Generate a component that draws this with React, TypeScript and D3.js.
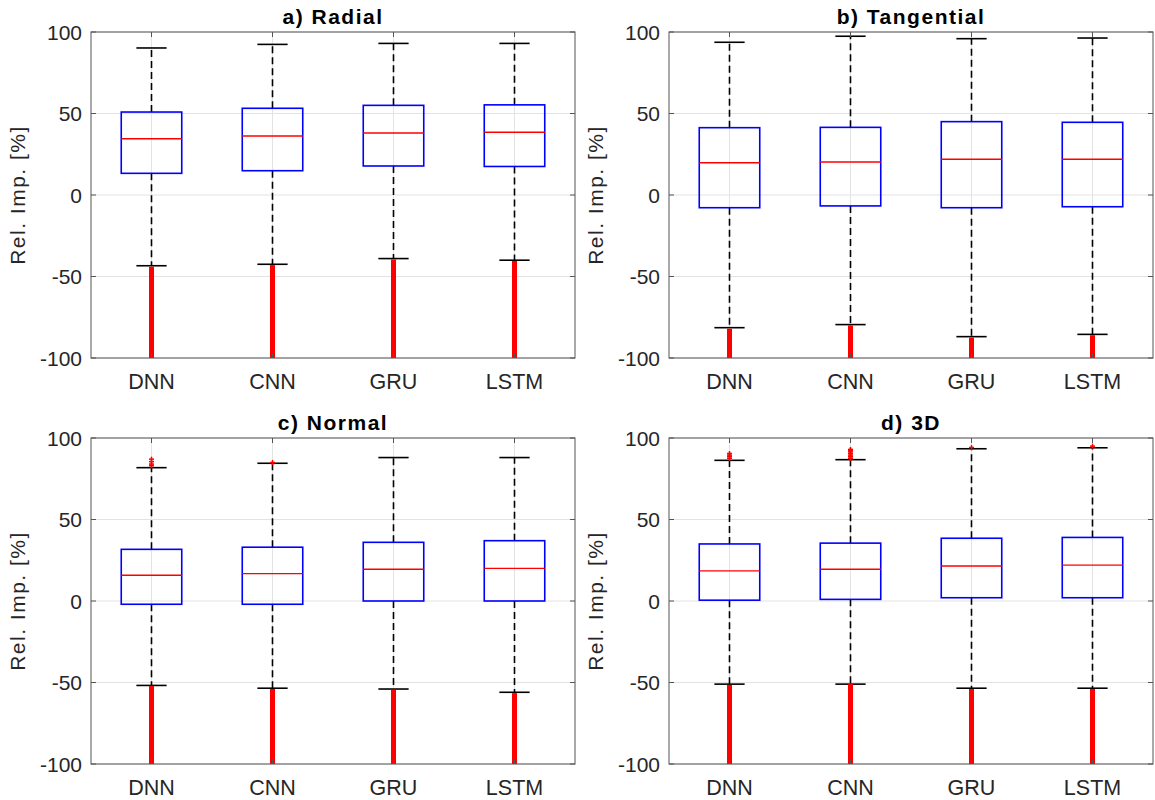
import * as d3 from 'd3';

// categories and box statistics
const models = ['DNN', 'CNN', 'GRU', 'LSTM'];
const yTicks = [-100, -50, 0, 50, 100];

const titles = ['a) Radial', 'b) Tangential', 'c) Normal', 'd) 3D'];

// per panel, per model: [lowerWhisker, q1, median, q3, upperWhisker]
const radialStats = [
  [-43.4, 13.3, 34.5, 50.9, 90.2],
  [-42.5, 14.9, 36.2, 53.2, 92.4],
  [-39.0, 17.8, 38.0, 55.0, 93.0],
  [-40.0, 17.5, 38.5, 55.3, 93.0],
];
const tangentialStats = [
  [-81.4, -7.8, 19.8, 41.3, 93.7],
  [-79.5, -6.7, 20.2, 41.5, 97.4],
  [-86.9, -7.8, 21.9, 45.0, 95.9],
  [-85.5, -7.2, 21.9, 44.6, 96.3],
];
const normalStats = [
  [-51.8, -2.0, 15.8, 31.7, 81.8],
  [-53.5, -2.0, 16.8, 33.0, 84.5],
  [-54.0, 0.0, 19.5, 36.0, 88.0],
  [-56.0, 0.0, 20.0, 37.0, 88.0],
];
const threeDStats = [
  [-51.0, 0.5, 18.5, 35.0, 86.3],
  [-51.0, 1.0, 19.5, 35.5, 86.7],
  [-53.5, 2.0, 21.5, 38.5, 93.4],
  [-53.5, 2.0, 22.0, 39.0, 94.0],
];

// dense lower outliers: [from, to] ranges
const radialLowOut = [[-44, -100], [-43, -100], [-39.5, -100], [-40.5, -100]];
const tangentialLowOut = [[-82, -100], [-80, -100], [-87.5, -100], [-86, -100]];
const normalLowOut = [[-52, -100], [-54, -100], [-54.5, -100], [-56.5, -100]];
const threeDLowOut = [[-51.5, -100], [-51, -100], [-54, -100], [-54, -100]];

// upper outliers: individual points
const radialHighOut = [[], [], [], []];
const tangentialHighOut = [[], [], [], []];
const normalHighOut = [[83, 84, 85.5, 87], [85], [], []];
const threeDHighOut = [[87.5, 88.5, 89.5, 90.5], [87.5, 88.5, 89.5, 90.5, 91.5, 92.5, 93], [94.2], [95]];

const panelStats = [radialStats, tangentialStats, normalStats, threeDStats];
const panelLowOut = [radialLowOut, tangentialLowOut, normalLowOut, threeDLowOut];
const panelHighOut = [radialHighOut, tangentialHighOut, normalHighOut, threeDHighOut];

const font = '"Liberation Sans", Arial, Helvetica, sans-serif';

function Panel({ idx, left, top, w, h }) {
  const stats = panelStats[idx];
  const lowOut = panelLowOut[idx];
  const highOut = panelHighOut[idx];

  const x = d3.scalePoint().domain(models).range([0, w]).padding(0.5);
  const step = x.step();
  const y = d3.scaleLinear().domain([-100, 100]).range([h, 0]);

  const boxHalf = step * 0.25;
  const capHalf = step * 0.125;
  const axisColor = '#555';
  const tickLen = 5;

  return (
    <g transform={`translate(${left},${top})`}>
      {/* grid */}
      {yTicks.map(t => (
        <line key={'gy' + t} x1={0} x2={w} y1={y(t)} y2={y(t)} stroke="#e3e3e3" strokeWidth={1} />
      ))}
      {models.map(m => (
        <line key={'gx' + m} x1={x(m)} x2={x(m)} y1={0} y2={h} stroke="#e3e3e3" strokeWidth={1} />
      ))}

      {/* boxes */}
      {models.map((m, i) => {
        const [lo, q1, med, q3, hi] = stats[i];
        const cx = x(m);
        return (
          <g key={'b' + m}>
            <line x1={cx} x2={cx} y1={y(q3)} y2={y(hi)} stroke="#000" strokeWidth={1.6} strokeDasharray="7,4" />
            <line x1={cx} x2={cx} y1={y(q1)} y2={y(lo)} stroke="#000" strokeWidth={1.6} strokeDasharray="7,4" />
            <line x1={cx - capHalf} x2={cx + capHalf} y1={y(hi)} y2={y(hi)} stroke="#000" strokeWidth={1.6} />
            <line x1={cx - capHalf} x2={cx + capHalf} y1={y(lo)} y2={y(lo)} stroke="#000" strokeWidth={1.6} />
            <line x1={cx} x2={cx} y1={y(lowOut[i][0])} y2={y(lowOut[i][1])} stroke="#ff0000" strokeWidth={5} />
            {highOut[i].map((v, k) => (
              <g key={'h' + k} stroke="#ff0000" strokeWidth={1.5}>
                <line x1={cx - 2.5} x2={cx + 2.5} y1={y(v)} y2={y(v)} />
                <line x1={cx} x2={cx} y1={y(v) - 2.5} y2={y(v) + 2.5} />
              </g>
            ))}
            <rect x={cx - boxHalf} y={y(q3)} width={boxHalf * 2} height={y(q1) - y(q3)} fill="none" stroke="#0000ff" strokeWidth={1.6} />
            <line x1={cx - boxHalf} x2={cx + boxHalf} y1={y(med)} y2={y(med)} stroke="#ff0000" strokeWidth={1.4} />
          </g>
        );
      })}

      {/* axes box */}
      <rect x={0} y={0} width={w} height={h} fill="none" stroke={axisColor} strokeWidth={1} />
      {yTicks.map(t => (
        <g key={'ty' + t}>
          <line x1={0} x2={tickLen} y1={y(t)} y2={y(t)} stroke={axisColor} />
          <line x1={w - tickLen} x2={w} y1={y(t)} y2={y(t)} stroke={axisColor} />
          <text x={-9} y={y(t)} dy="0.36em" textAnchor="end" fontSize={21} fill="#262626" fontFamily={font}>{t}</text>
        </g>
      ))}
      {models.map(m => (
        <g key={'tx' + m}>
          <line x1={x(m)} x2={x(m)} y1={h} y2={h - tickLen} stroke={axisColor} />
          <line x1={x(m)} x2={x(m)} y1={0} y2={tickLen} stroke={axisColor} />
          <text x={x(m)} y={h + 31} textAnchor="middle" fontSize={21.5} fill="#262626" fontFamily={font}>{m}</text>
        </g>
      ))}

      <text x={w / 2} y={-8} textAnchor="middle" fontSize={21} letterSpacing={1.5} fontWeight="bold" fill="#000" fontFamily={font}>{titles[idx]}</text>
      <text transform={`translate(${-66},${h / 2}) rotate(-90)`} textAnchor="middle" fontSize={21} letterSpacing={1.5} fill="#262626" fontFamily={font}>Rel. Imp. [%]</text>
    </g>
  );
}

export default function App() {
  const width = 1155;
  const height = 800;
  const lefts = [91, 669];
  const tops = [32, 438];
  const w = 484;
  const h = 326;
  return (
    <svg width={width} height={height} style={{ position: 'absolute', left: 0, top: 0, background: '#fff' }}>
      <rect width={width} height={height} fill="#fff" />
      {[0, 1, 2, 3].map(i => (
        <Panel key={i} idx={i} left={lefts[i % 2]} top={tops[Math.floor(i / 2)]} w={w} h={h} />
      ))}
    </svg>
  );
}
